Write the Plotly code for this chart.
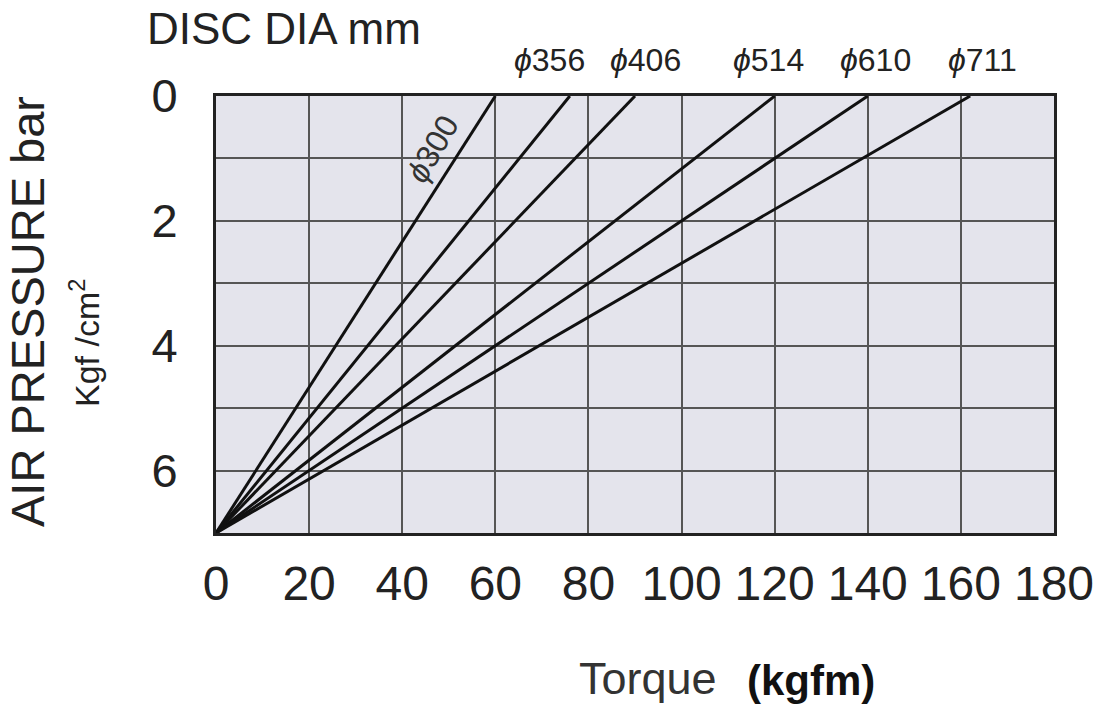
import plotly.graph_objects as go

# Data
disc_labels = ["ϕ300", "ϕ356", "ϕ406", "ϕ514", "ϕ610", "ϕ711"]
torque_at_zero = [60, 76, 90, 120, 140, 162]   # torque where line meets pressure 0
pressure_start = 7                               # common origin pressure
x_ticks = [0, 20, 40, 60, 80, 100, 120, 140, 160, 180]
y_ticks = [0, 2, 4, 6]
y_minor_ticks = [1, 3, 5, 7]

FONT = "Liberation Sans, Arial, sans-serif"
L, R, T, B = 216, 1054, 96, 533
PW, PH = R - L, B - T


def px(xp):
    return (xp - L) / PW


def py(yp):
    return (B - yp) / PH


fig = go.Figure()
for lab, t in zip(disc_labels, torque_at_zero):
    fig.add_trace(go.Scatter(x=[0, t], y=[pressure_start, 0], mode="lines",
                             line=dict(color="#111111", width=3), name=lab,
                             showlegend=False, hoverinfo="skip"))

# Top labels for the larger discs
label_shift = {"ϕ356": -20, "ϕ406": 10, "ϕ514": -6, "ϕ610": 8, "ϕ711": 12}
for lab, t in zip(disc_labels[1:], torque_at_zero[1:]):
    fig.add_annotation(x=t, y=0, xref="x", yref="y", yshift=36,
                       xshift=label_shift[lab],
                       text="<i>" + lab[0] + "</i>" + lab[1:], showarrow=False,
                       font=dict(family=FONT, size=32, color="#222222"),
                       xanchor="center", yanchor="middle")

# Rotated label along phi300
fig.add_annotation(x=46.5, y=0.85, xref="x", yref="y",
                   text="<i>" + disc_labels[0][0] + "</i>" + disc_labels[0][1:],
                   showarrow=False, textangle=-60, xanchor="center", yanchor="middle",
                   font=dict(family=FONT, size=32, color="#333333"))

fig.add_annotation(x=px(145), y=py(29), xref="paper", yref="paper",
                   yanchor="middle", xanchor="left",
                   text="DISC DIA mm", showarrow=False,
                   font=dict(family=FONT, size=44, color="#222222"))

fig.add_annotation(x=px(27), y=py(312), xref="paper", yref="paper",
                   xanchor="center", yanchor="middle",
                   text="AIR PRESSURE bar", textangle=-90, showarrow=False,
                   font=dict(family=FONT, size=47, color="#222222"))
fig.add_annotation(x=px(84), y=py(343), xref="paper", yref="paper",
                   xanchor="center", yanchor="middle",
                   text="Kgf /cm<sup>2</sup>", textangle=-90, showarrow=False,
                   font=dict(family=FONT, size=34, color="#222222"))

fig.add_annotation(x=px(648), y=py(678), xref="paper", yref="paper",
                   xanchor="center", yanchor="middle",
                   text="Torque", showarrow=False,
                   font=dict(family=FONT, size=45, color="#333333"))
fig.add_annotation(x=px(811), y=py(680), xref="paper", yref="paper",
                   xanchor="center", yanchor="middle",
                   text="<b>(kgfm)</b>", showarrow=False,
                   font=dict(family=FONT, size=42, color="#111111"))

fig.update_layout(
    width=1107, height=709,
    margin=dict(l=L, r=1107 - R, t=T, b=709 - B),
    paper_bgcolor="white", plot_bgcolor="#e4e4ec",
    font=dict(family=FONT, color="#222222"),
    showlegend=False,
)
fig.update_xaxes(range=[0, 180], tickvals=x_ticks, showgrid=True,
                 gridcolor="#555555", gridwidth=1.5, zeroline=False,
                 showline=True, linecolor="#222222", linewidth=3, mirror=True,
                 ticks="", tickfont=dict(family=FONT, size=48, color="#222222"),
                 ticklabelstandoff=6)
fig.update_yaxes(range=[7, 0], tickvals=y_ticks, showgrid=True,
                 gridcolor="#555555", gridwidth=1.5, zeroline=False,
                 minor=dict(tickvals=y_minor_ticks, showgrid=True,
                            gridcolor="#555555", gridwidth=1.5, ticks=""),
                 showline=True, linecolor="#222222", linewidth=3, mirror=True,
                 ticks="", tickfont=dict(family=FONT, size=47, color="#222222"),
                 ticklabelstandoff=26)

fig.write_html("out.html")
